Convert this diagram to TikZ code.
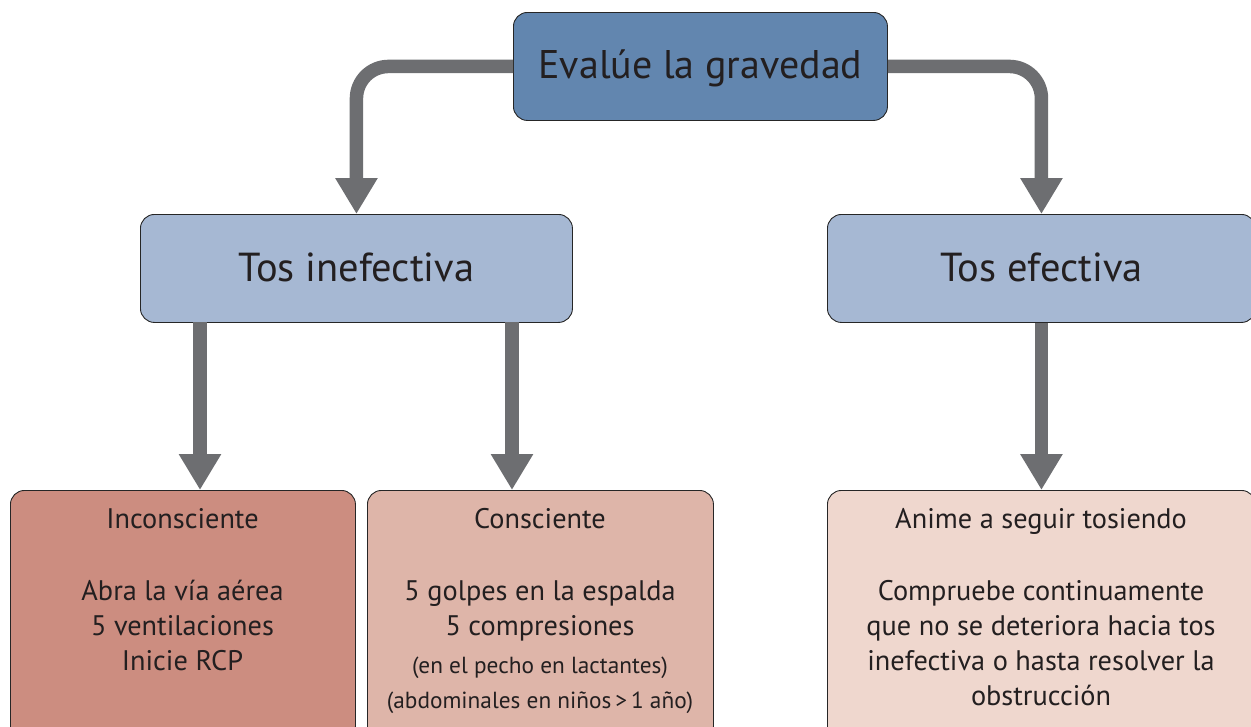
\documentclass[tikz,border=0pt]{standalone}
\usepackage{fontspec}
\setmainfont{PT Sans}
\usetikzlibrary{arrows.meta}
\definecolor{txt}{HTML}{231F20}
\definecolor{arrowc}{HTML}{6D6E71}
\definecolor{topc}{HTML}{6286AF}
\definecolor{midc}{HTML}{A6B8D3}
\definecolor{redc}{HTML}{CC8D80}
\definecolor{pinkc}{HTML}{DEB5A9}
\definecolor{lightc}{HTML}{EFD7CE}
\tikzset{
  box/.style={draw=black!85, line width=0.9pt, rounded corners=14pt, anchor=north west, inner sep=0pt, text=txt},
  bigtext/.style={font=\fontsize{40}{48}\selectfont},
  midtext/.style={font=\fontsize{40.5}{48}\selectfont},
  line/.style={anchor=base, inner sep=0pt, text=txt, font=\fontsize{28.3}{35}\selectfont},
  small/.style={anchor=base, inner sep=0pt, text=txt, font=\fontsize{23.3}{28}\selectfont},
  conn/.style={draw=arrowc, line width=13.5pt, -{Triangle[width=40pt,length=36pt]}},
}
\begin{document}
\begin{tikzpicture}[x=1pt,y=-1pt]
\useasboundingbox (0,0) rectangle (1251,726);
\clip (0,0) rectangle (1251,726);
% boxes
\node[box, fill=topc, minimum width=374pt, minimum height=108pt, bigtext, text height=32pt, text depth=8pt] (top) at (513,12) {Evalúe la gravedad};
\node[box, fill=midc, minimum width=432pt, minimum height=108pt, midtext, text height=34pt, text depth=8pt] (ine) at (140,214) {Tos inefectiva};
\node[box, fill=midc, minimum width=428pt, minimum height=108pt, midtext, text height=34pt, text depth=8pt] (efe) at (827,214) {Tos efectiva};
\node[box, fill=redc, minimum width=345pt, minimum height=250pt] (inc) at (10,490) {};
\node[box, fill=pinkc, minimum width=346pt, minimum height=250pt] (con) at (367,490) {};
\node[box, fill=lightc, minimum width=428pt, minimum height=250pt] (ani) at (827,490) {};
% connector end points on the boxes
\coordinate (ineL) at (200,322);
\coordinate (ineR) at (512,322);
\coordinate (incT) at (200,490);
\coordinate (conT) at (512,490);
\draw[conn, rounded corners=32pt] (top.west) -| (ine.north);
\draw[conn, rounded corners=32pt] (top.east) -| (efe.north);
\draw[conn] (ineL) -- (incT);
\draw[conn] (ineR) -- (conT);
\draw[conn] (efe.south) -- (ani.north);
% texts left
\node[line] (i1) at (182.5,528) {Inconsciente};
\node[line] (i2) at (182.5,600) {Abra la vía aérea};
\node[line] (i3) at (182.5,635) {5 ventilaciones};
\node[line] (i4) at (182.5,670) {Inicie RCP};
% texts middle
\node[line] (c1) at (540,528) {Consciente};
\node[line] (c2) at (540,600) {5 golpes en la espalda};
\node[line] (c3) at (540,635) {5 compresiones};
\node[small] (c4) at (540,673) {(en el pecho en lactantes)};
\node[small] (c5) at (540,708) {(abdominales en niños\,>\,1 año)};
% texts right
\node[line] (a1) at (1041,528) {Anime a seguir tosiendo};
\node[line] (a2) at (1041,600) {Compruebe continuamente};
\node[line] (a3) at (1041,635) {que no se deteriora hacia tos};
\node[line] (a4) at (1041,670) {inefectiva o hasta resolver la};
\node[line] (a5) at (1041,705) {obstrucción};
\end{tikzpicture}
\end{document}
